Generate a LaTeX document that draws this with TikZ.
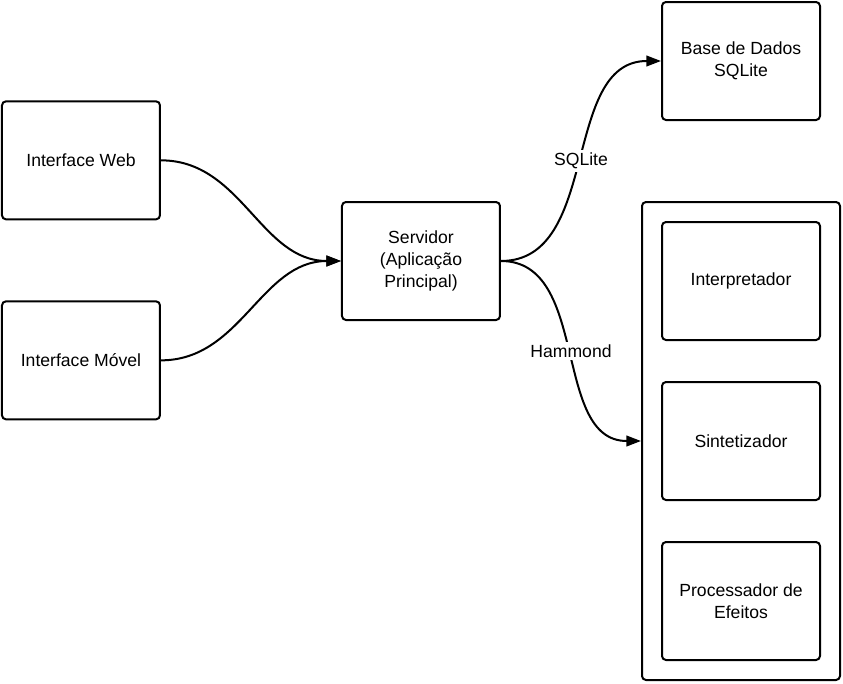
\documentclass[tikz,border=0pt]{standalone}
\usepackage{fontspec}
\setmainfont{Liberation Sans}
\usetikzlibrary{positioning,fit,arrows.meta}

\begin{document}
\begin{tikzpicture}[line width=1.5pt,
    box/.style = {draw, rounded corners=3pt, minimum width=118.5pt, minimum height=88.5pt, align=center, font=\fontsize{13.2}{16.5}\selectfont},
    arr/.style = {-{Triangle[length=11pt,width=8pt]}},
    lbl/.style = {midway, fill=white, inner sep=2pt, font=\fontsize{13.2}{15}\selectfont}]
      \useasboundingbox (-315.75pt,-316.5pt) rectangle (316.5pt,195.75pt);

      \node[box] (srv) at (0,0) {Servidor\\(Aplicação\\Principal)};
      \node[box] (web) [left=135pt of srv, yshift=75.5pt] {Interface Web};
      \node[box] (movel) [below=60pt of web] {Interface Móvel};
      \node[box] (db) [right=120pt of srv, yshift=150pt] {Base de Dados\\SQLite};
      \node[box] (interp) [below=75pt of db] {Interpretador};
      \node[box] (sint) [below=30pt of interp] {Sintetizador};
      \node[box] (proc) [below=30pt of sint] {Processador de\\Efeitos};
      \node[draw, rounded corners=3pt, inner sep=14.25pt, fit=(interp)(proc)] (hammond) {};

      \draw[arr] (web.east) to[out=0, in=180] (srv.west);
      \draw[arr] (movel.east) to[out=0, in=180] (srv.west);
      \draw[arr] (srv.east) to[out=0, in=180] node[lbl] {SQLite} (db.west);
      \draw[arr] (srv.east) to[out=0, in=180] node[lbl] {Hammond} (hammond.west);
    \end{tikzpicture}
\end{document}
